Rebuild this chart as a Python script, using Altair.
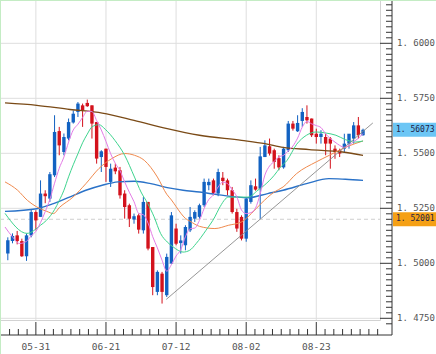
import altair as alt
import pandas as pd

# ---------------- data ----------------
opens = [1.5045, 1.5101, 1.5127, 1.5101, 1.5032, 1.5127, 1.5233, 1.5211, 1.5317, 1.5294,
         1.5400, 1.5601, 1.5506, 1.5567, 1.5640, 1.5688, 1.5718, 1.5729, 1.5718, 1.5642,
         1.5483, 1.5521, 1.5370, 1.5435, 1.5423, 1.5317, 1.5264, 1.5199, 1.5218, 1.5150,
         1.5279, 1.5074, 1.4870, 1.4953, 1.4855, 1.4999, 1.5158, 1.5092, 1.5082, 1.5150,
         1.5203, 1.5211, 1.5264, 1.5355, 1.5377, 1.5317, 1.5389, 1.5377, 1.5332, 1.5233,
         1.5211, 1.5112, 1.5279, 1.5350, 1.5339, 1.5483, 1.5532, 1.5514, 1.5478, 1.5436,
         1.5514, 1.5635, 1.5600, 1.5647, 1.5665, 1.5658, 1.5589, 1.5574, 1.5574, 1.5567,
         1.5521, 1.5514, 1.5521, 1.5544, 1.5567, 1.5627, 1.5582]
highs = [1.5118, 1.5136, 1.5147, 1.5112, 1.5135, 1.5242, 1.5241, 1.5377, 1.5332, 1.5415,
         1.5673, 1.5620, 1.5590, 1.5658, 1.5695, 1.5733, 1.5726, 1.5744, 1.5718, 1.5642,
         1.5514, 1.5521, 1.5453, 1.5453, 1.5438, 1.5332, 1.5271, 1.5226, 1.5226, 1.5301,
         1.5279, 1.5074, 1.4968, 1.4961, 1.5044, 1.5233, 1.5180, 1.5127, 1.5173, 1.5256,
         1.5241, 1.5271, 1.5385, 1.5385, 1.5385, 1.5430, 1.5415, 1.5385, 1.5347, 1.5248,
         1.5218, 1.5301, 1.5377, 1.5385, 1.5529, 1.5559, 1.5567, 1.5521, 1.5491, 1.5529,
         1.5647, 1.5647, 1.5673, 1.5705, 1.5718, 1.5658, 1.5612, 1.5605, 1.5589, 1.5574,
         1.5536, 1.5521, 1.5589, 1.5580, 1.5642, 1.5665, 1.5612]
lows = [1.5014, 1.5091, 1.5086, 1.5029, 1.5011, 1.5118, 1.5150, 1.5211, 1.5273, 1.5279,
        1.5392, 1.5491, 1.5491, 1.5559, 1.5635, 1.5665, 1.5620, 1.5711, 1.5567, 1.5453,
        1.5415, 1.5370, 1.5347, 1.5405, 1.5294, 1.5203, 1.5165, 1.5180, 1.5135, 1.5135,
        1.5059, 1.4855, 1.4855, 1.4817, 1.4847, 1.4997, 1.5082, 1.5044, 1.5059, 1.5142,
        1.5188, 1.5203, 1.5256, 1.5332, 1.5309, 1.5305, 1.5355, 1.5309, 1.5226, 1.5143,
        1.5104, 1.5098, 1.5271, 1.5330, 1.5202, 1.5483, 1.5490, 1.5430, 1.5423, 1.5430,
        1.5506, 1.5603, 1.5597, 1.5620, 1.5635, 1.5574, 1.5544, 1.5544, 1.5491, 1.5430,
        1.5475, 1.5483, 1.5506, 1.5521, 1.5544, 1.5567, 1.5580]
closes = [1.5105, 1.5124, 1.5101, 1.5032, 1.5127, 1.5233, 1.5195, 1.5317, 1.5305, 1.5405,
          1.5597, 1.5536, 1.5574, 1.5642, 1.5680, 1.5726, 1.5695, 1.5714, 1.5635, 1.5476,
          1.5509, 1.5438, 1.5430, 1.5418, 1.5309, 1.5256, 1.5203, 1.5214, 1.5153, 1.5279,
          1.5067, 1.4892, 1.4961, 1.4870, 1.5029, 1.5218, 1.5089, 1.5104, 1.5165, 1.5211,
          1.5233, 1.5264, 1.5370, 1.5370, 1.5317, 1.5415, 1.5374, 1.5332, 1.5233, 1.5158,
          1.5112, 1.5294, 1.5355, 1.5335, 1.5486, 1.5536, 1.5499, 1.5461, 1.5436, 1.5521,
          1.5635, 1.5612, 1.5638, 1.5688, 1.5650, 1.5582, 1.5574, 1.5589, 1.5544, 1.5544,
          1.5506, 1.5499, 1.5544, 1.5589, 1.5627, 1.5582, 1.5607]

# moving averages (position in bars, price)
pink_n = [-0.6, 1, 2.5, 4, 5, 6, 7, 8, 9, 10, 11, 12, 13, 14, 15, 16, 17, 18, 19, 20,
          21, 22, 23, 24, 25, 26, 27, 28, 29, 30, 31, 32, 33, 34, 35, 36, 37, 38, 39, 40,
          41, 42, 43, 44, 45, 46, 47, 48, 49, 50, 51, 52, 53, 54, 55, 56, 57, 58, 59, 60,
          61, 62, 63, 64, 65, 66, 67, 68, 69, 70, 71, 72, 73, 74, 75, 76]
pink_p = [1.5165, 1.5120, 1.5090, 1.5100, 1.5125, 1.5145, 1.5185, 1.5235, 1.5291, 1.5364,
          1.5432, 1.5483, 1.5551, 1.5606, 1.5632, 1.5663, 1.5691, 1.5690, 1.5649, 1.5606,
          1.5554, 1.5498, 1.5454, 1.5421, 1.5370, 1.5323, 1.5280, 1.5227, 1.5221, 1.5183,
          1.5121, 1.5070, 1.5014, 1.4964, 1.4994, 1.5033, 1.5062, 1.5121, 1.5157, 1.5160,
          1.5195, 1.5249, 1.5290, 1.5311, 1.5347, 1.5369, 1.5362, 1.5334, 1.5302, 1.5242,
          1.5226, 1.5230, 1.5251, 1.5316, 1.5401, 1.5442, 1.5463, 1.5484, 1.5491, 1.5511,
          1.5533, 1.5569, 1.5619, 1.5645, 1.5634, 1.5626, 1.5617, 1.5588, 1.5567, 1.5551,
          1.5536, 1.5527, 1.5536, 1.5553, 1.5568, 1.5590]
green_n = [-0.6, 4.1, 7.0, 8.3, 10, 11, 12, 13, 14, 15, 16, 17, 18, 19.5, 20.85, 22.9,
           25.0, 27.1, 28.5, 29.9, 31.3, 32.7, 34.1, 35.4, 37.5, 38.9, 40.3, 42.4, 44.3,
           45.2, 47.25, 49.3, 51.4, 53.5, 54.9, 57.0, 58.3, 59.75, 61.8, 63.9, 66.0, 68.1,
           70.2, 72.25, 74.3, 76]
green_p = [1.5227, 1.5136, 1.5173, 1.5196, 1.5244, 1.5285, 1.5332, 1.5393, 1.5448, 1.5498,
           1.5548, 1.5587, 1.5620, 1.5630, 1.5609, 1.5559, 1.5491, 1.5392, 1.5324, 1.5273,
           1.5211, 1.5135, 1.5097, 1.5074, 1.5051, 1.5059, 1.5090, 1.5150, 1.5211, 1.5249,
           1.5301, 1.5301, 1.5301, 1.5332, 1.5355, 1.5400, 1.5436, 1.5468, 1.5541, 1.5582,
           1.5597, 1.5592, 1.5582, 1.5562, 1.5551, 1.5556]
orange_n = [-0.6, 2.1, 4.2, 6.2, 8.35, 9.75, 11.1, 13.9, 16.7, 19.5, 22.25, 25.0, 27.1,
            29.2, 32.0, 34.0, 35.0, 36.0, 37.0, 38.0, 39.0, 41.0, 44.3, 47.25, 50.0, 52.1,
            54.2, 57.0, 58.9, 61.8, 66.0, 68.8, 71.6, 74.3, 76]
orange_p = [1.5370, 1.5332, 1.5286, 1.5256, 1.5236, 1.5226, 1.5255, 1.5300, 1.5362, 1.5431,
            1.5476, 1.5499, 1.5491, 1.5468, 1.5392, 1.5314, 1.5288, 1.5258, 1.5228, 1.5204,
            1.5191, 1.5168, 1.5158, 1.5173, 1.5188, 1.5226, 1.5272, 1.5324, 1.5347, 1.5408,
            1.5461, 1.5491, 1.5521, 1.5544, 1.5556]
blue_n = [-0.6, 6.2, 9.75, 13.2, 16.7, 20.2, 23.6, 27.1, 30.6, 34.1, 37.5, 41.0, 45.2,
          51.4, 55.6, 58.9, 63.9, 68.7, 72.25, 76]
blue_p = [1.5236, 1.5248, 1.5271, 1.5301, 1.5332, 1.5355, 1.5370, 1.5373, 1.5362, 1.5344,
          1.5332, 1.5324, 1.5311, 1.5298, 1.5317, 1.5332, 1.5362, 1.5385, 1.5382, 1.5377]
brown_n = [-0.6, 6.2, 13.3, 20.2, 27.0, 34.1, 41.0, 50.0, 55.0, 58.9, 64.5, 71.6, 76]
brown_p = [1.5729, 1.5718, 1.5699, 1.5683, 1.5650, 1.5612, 1.5582, 1.5559, 1.5544, 1.5527,
           1.5517, 1.5506, 1.5491]
trend_n = [33.9, 78.1]
trend_p = [1.4836, 1.5638]

xlabel_pos = [6, 21, 36, 51, 66]
xlabels = ["05-31", "06-21", "07-12", "08-02", "08-23"]
ymajor = [1.475, 1.500, 1.525, 1.550, 1.575, 1.600]
tag_values = [1.56073, 1.52001]
tag_labels = ["1. 56073", "1. 52001"]
tag_colors = ["#6cc6f5", "#f5a015"]

# ---------------- styling ----------------
W, H = 380, 320
BLUE, RED = "#1262c2", "#d3121c"
FONT = "DejaVu Sans Mono"
AX_X, AX_Y = 392, 335
xscale = alt.Scale(domain=[-0.604, 78.56], nice=False, zero=False)
yscale = alt.Scale(domain=[1.47423, 1.61968], nice=False, zero=False)

def X(f="n"):
    return alt.X(f"{f}:Q", scale=xscale, title=None)

def Y(f="p"):
    return alt.Y(f"{f}:Q", scale=yscale, title=None)

dummy = pd.DataFrame({"a": [0]})

cdf = pd.DataFrame({"n": list(range(len(closes))), "open": opens, "high": highs,
                    "low": lows, "close": closes})
cdf["dir"] = ["up" if c >= o else "down" for o, c in zip(opens, closes)]
color = alt.Color("dir:N", scale=alt.Scale(domain=["up", "down"], range=[BLUE, RED]), legend=None)

# grid
hgrid = alt.Chart(pd.DataFrame({"p": ymajor})).mark_rule(color="#dedede", strokeWidth=1).encode(
    y=Y(), x=alt.value(0), x2=alt.value(W))
vgrid = alt.Chart(pd.DataFrame({"n": xlabel_pos})).mark_rule(color="#dedede", strokeWidth=1).encode(
    x=X(), y=alt.value(0), y2=alt.value(H))
dash = alt.Chart(pd.DataFrame({"p": [tag_values[1]]})).mark_rule(
    color="#cfcfcf", strokeDash=[4, 3], strokeWidth=1).encode(y=Y(), x=alt.value(0), x2=alt.value(W))

# candles
wicks = alt.Chart(cdf).mark_rule(strokeWidth=1).encode(
    x=X("n"), y=Y("low"), y2="high:Q", color=color)
bodies = alt.Chart(cdf).mark_bar(size=3.4).encode(
    x=X("n"), y=Y("open"), y2="close:Q", color=color)

def ma(ns, ps, col, w):
    return alt.Chart(pd.DataFrame({"n": ns, "p": ps})).mark_line(
        color=col, strokeWidth=w, interpolate="monotone", clip=True).encode(x=X(), y=Y())

lines = [ma(brown_n, brown_p, "#7a4a16", 1.3), ma(blue_n, blue_p, "#2a72c8", 1.4),
         ma(orange_n, orange_p, "#f08a4e", 1.0), ma(green_n, green_p, "#3ed48e", 1.0),
         ma(pink_n, pink_p, "#e47be6", 1.0)]
trend = alt.Chart(pd.DataFrame({"n": trend_n, "p": trend_p})).mark_line(
    color="#8a8a8a", strokeWidth=0.9, clip=True).encode(x=X(), y=Y())

# hand-drawn axis frame with inward ticks
xmin = [6 + 1.875 * k for k in range(-3, 40) if k % 8 != 0]
xminor = alt.Chart(pd.DataFrame({"n": xmin})).mark_rule(color="#333333").encode(
    x=X(), y=alt.value(AX_Y - 6), y2=alt.value(AX_Y))
xmajor = alt.Chart(pd.DataFrame({"n": xlabel_pos})).mark_rule(color="#333333").encode(
    x=X(), y=alt.value(H + 2), y2=alt.value(AX_Y))
ymin = [round(1.4725 + 0.0025 * k, 4) for k in range(0, 59)]
ymin = [v for v in ymin if all(abs(v - m) > 1e-6 for m in ymajor)]
yminor = alt.Chart(pd.DataFrame({"p": ymin})).mark_rule(color="#333333").encode(
    y=Y(), x=alt.value(AX_X - 6), x2=alt.value(AX_X))
ymaj = alt.Chart(pd.DataFrame({"p": ymajor})).mark_rule(color="#333333").encode(
    y=Y(), x=alt.value(W), x2=alt.value(AX_X))
xline = alt.Chart(dummy).mark_rule(color="#333333").encode(
    x=alt.value(0), x2=alt.value(AX_X), y=alt.value(AX_Y))
yline = alt.Chart(dummy).mark_rule(color="#333333").encode(
    x=alt.value(AX_X), y=alt.value(0), y2=alt.value(AX_Y))
gleft = alt.Chart(dummy).mark_rule(color="#c4ecc4", strokeWidth=2).encode(
    x=alt.value(0), y=alt.value(0), y2=alt.value(354))
gtop = alt.Chart(dummy).mark_rule(color="#c4ecc4", strokeWidth=2).encode(
    y=alt.value(0), x=alt.value(0), x2=alt.value(436))

# axis labels (text through the scales)
xl = alt.Chart(pd.DataFrame({"n": xlabel_pos, "t": xlabels})).mark_text(
    align="center", baseline="middle", font=FONT, fontSize=9.5, color="#555555").encode(
    x=X(), y=alt.value(AX_Y + 12), text="t:N")
yl = alt.Chart(pd.DataFrame({"p": ymajor})).transform_calculate(
    t="replace(format(datum.p, '.4f'), '.', '. ')").mark_text(
    align="left", baseline="middle", font=FONT, fontSize=9, color="#555555").encode(
    y=Y(), x=alt.value(AX_X + 5), text="t:N")

# price tags
tdf = pd.DataFrame({"p": tag_values, "t": tag_labels, "c": tag_colors})
tag_box = alt.Chart(tdf).mark_rule(strokeWidth=14, strokeCap="butt").encode(
    y=Y(), x=alt.value(AX_X + 1), x2=alt.value(440),
    color=alt.Color("c:N", scale=None, legend=None))
tag_txt = alt.Chart(tdf).mark_text(align="left", baseline="middle", font=FONT, fontSize=8,
                                   color="#222244").encode(y=Y(), x=alt.value(AX_X + 4), text="t:N")

chart = alt.layer(
    hgrid, vgrid, dash, wicks, bodies, *lines, trend,
    xminor, xmajor, yminor, ymaj, xline, yline, xl, yl, tag_box, tag_txt, gleft, gtop
).resolve_axis(x="independent", y="independent").properties(
    width=W, height=H,
    autosize=alt.AutoSizeParams(type="none"),
    padding={"left": 0, "top": 0, "right": 56, "bottom": 34},
    background="white",
).configure_axis(disable=True).configure_view(stroke="#d2d2d2", strokeWidth=1)

chart.save("out.html", embed_options={"renderer": "svg", "actions": False})
